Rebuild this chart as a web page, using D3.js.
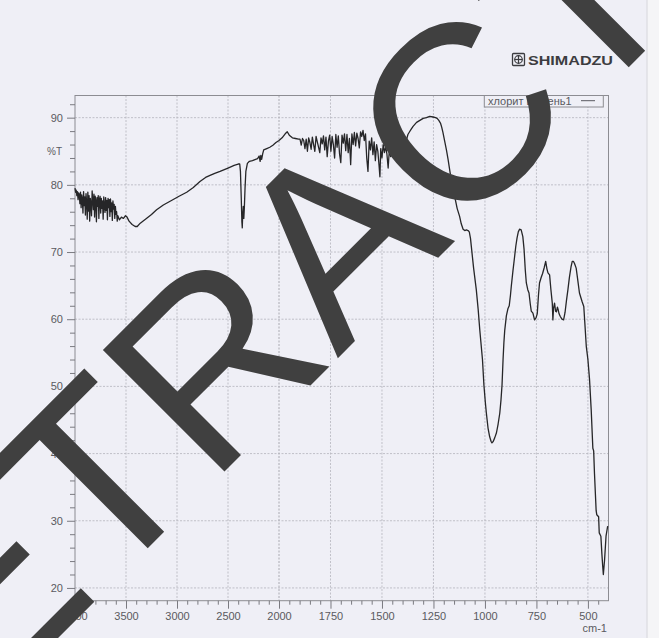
<!DOCTYPE html>
<html>
<head>
<meta charset="utf-8">
<script src="https://cdn.jsdelivr.net/npm/d3@7"></script>
<style>
  html, body { margin: 0; padding: 0; background: #efeff6; }
  svg { display: block; }
</style>
</head>
<body>
<svg id="chart" width="659" height="638"></svg>
<script>
// IR transmittance spectrum, %T versus wavenumber (cm-1)
const wavenumbers = [
  4000,3994,3988,3982,3976,3970,3964,3958,3952,3946,3940,3934,3928,3922,3916,3910,3904,3898,3892,3886,
  3880,3874,3868,3862,3856,3850,3844,3838,3832,3826,3820,3814,3808,3802,3796,3790,3784,3778,3772,3766,
  3760,3754,3748,3742,3736,3730,3724,3718,3712,3706,3700,3694,3688,3682,3676,3670,3664,3658,3652,3646,
  3640,3634,3628,3622,3616,3610,3604,3598,3592,3586,3580,
  3565,3545,3525,3505,3490,3470,3440,3410,3390,3360,3300,3250,3200,3134,3050,2980,2905,2840,2775,2720,
  2676,2630,2578,2500,2440,2400,2385,2378,2370,2364,2360,2356,2350,2345,2340,2333,2325,2310,2290,2260,
  2230,2210,2195,2185,2178,2170,2160,2150,2120,2090,2060,2030,2000,1985,1970,1960,1950,1935,1920,1905,
  1898,1892,1886,1880,1874,1868,1862,1856,1850,1844,1838,1832,1826,1820,1814,1808,1802,1796,1790,1784,
  1778,1772,1766,1760,1754,1748,1742,1736,1730,1724,1718,1712,1706,1700,1694,1688,1682,1676,1670,1664,
  1658,1652,1646,1640,1634,1628,1622,1616,1610,1604,1598,1592,1586,1580,1574,1568,1562,1556,1550,1544,
  1538,1532,1526,1520,1514,1510,1506,1500,1494,1488,1482,1476,1470,1464,1458,1452,1446,1440,1434,1428,
  1422,1416,1410,1404,1398,1392,1386,1380,1374,1366,1358,1349,1332,1316,1300,1284,1268,1252,1240,1232,
  1224,1216,1210,1204,1196,1187,1179,1171,1160,1147,1135,1123,1115,1106,1098,1090,1082,1076,1070,1066,
  1055,1042,1033,1025,1012,1005,998,993,985,977,970,966,960,953,944,936,928,922,917,912,
  908,904,896,888,882,876,872,864,856,850,844,838,832,824,816,810,804,799,792,786,
  780,775,767,759,752,746,740,735,727,720,712,705,699,694,686,680,673,670,667,662,
  657,653,648,645,640,634,626,618,611,604,597,590,582,576,570,565,557,550,541,534,
  528,520,514,508,500,492,484,476,472,468,460,457,448,445,437,432,428,425,419,412,
  404
];
const transmittance = [
  79.5,78.9,79.2,78.4,79.0,77.8,78.8,78.6,77.2,78.9,76.6,78.5,77.9,75.8,79.0,76.9,78.2,75.5,78.7,77.4,
  74.9,78.9,76.1,78.4,74.6,78.0,77.2,75.4,79.1,77.8,76.3,78.6,75.2,78.3,77.6,74.5,78.1,76.8,78.4,75.0,
  77.9,78.3,75.8,78.0,76.5,77.6,74.9,78.2,77.0,75.9,78.1,76.2,77.7,74.8,78.0,76.6,77.8,75.3,77.9,76.0,
  77.3,74.7,77.6,76.4,77.1,75.0,76.8,75.6,76.0,74.6,75.4,
  74.8,75.2,75.0,75.4,75.2,74.6,74.1,73.8,73.8,74.3,75.0,75.6,76.3,77.0,77.7,78.3,78.9,79.6,80.5,81.1,
  81.4,81.7,82.0,82.5,82.9,83.1,83.1,82.0,78.0,74.5,73.6,75.5,76.8,75.0,76.5,79.5,82.0,83.2,83.5,83.6,
  83.8,83.9,84.3,83.5,84.4,83.8,84.6,85.2,85.4,85.6,85.9,86.3,86.6,87.0,87.6,87.9,87.4,87.0,86.9,86.8,
  86.8,85.9,86.9,86.6,85.4,86.8,85.0,87.0,86.3,85.3,87.1,86.0,85.0,87.2,86.4,85.6,84.8,87.0,86.1,87.3,
  85.2,87.1,84.2,86.5,87.4,85.0,87.2,86.0,84.0,87.5,85.6,87.3,84.6,83.3,87.4,86.2,87.6,85.1,87.5,84.8,
  86.9,83.0,87.6,86.0,87.8,85.8,87.7,86.9,85.5,87.9,87.2,88.1,86.6,87.6,84.0,82.0,86.5,85.2,87.0,84.5,
  86.4,83.6,86.0,85.0,82.8,81.2,85.4,84.0,86.0,84.8,85.7,84.6,82.5,85.3,84.2,85.5,84.6,85.2,84.0,85.4,
  84.8,85.6,85.0,85.8,85.4,86.2,86.0,86.8,87.5,87.9,88.3,88.7,89.3,89.6,89.9,90.0,90.2,90.1,90.0,89.9,
  89.6,89.2,88.6,87.8,86.6,85.2,83.8,82.2,80.0,78.3,76.5,75.3,74.2,73.4,73.2,73.3,73.2,73.0,72.0,70.8,
  67.6,64.4,61.5,58.4,54.0,50.2,47.6,46.0,43.8,42.5,41.8,41.6,41.8,42.3,43.1,44.4,46.0,48.0,50.2,54.0,
  56.5,58.3,60.5,61.6,62.0,63.6,64.9,67.2,69.3,70.9,72.1,73.0,73.4,73.3,72.3,70.4,67.3,65.4,64.4,63.9,
  62.3,61.2,60.9,59.9,60.2,60.8,63.6,65.4,66.2,66.8,67.7,68.6,67.5,66.9,66.6,64.5,62.4,59.9,61.6,62.4,
  61.2,61.1,61.8,61.5,60.8,60.4,60.0,59.9,61.0,62.8,64.4,66.2,67.8,68.6,68.6,68.3,67.6,66.0,63.9,63.2,
  62.6,61.9,59.0,56.0,54.0,51.0,46.5,40.8,40.4,37.0,31.5,30.9,30.6,28.2,27.7,25.0,23.2,22.0,24.2,27.7,
  29.2
];

// Axis ticks and labels
const xMajorTicks = [4000,3500,3000,2500,2000,1750,1500,1250,1000,750,500];
const xMinorTicks = [3900,3800,3700,3600,3400,3300,3200,3100,2900,2800,2700,2600,2400,2300,2200,2100,
  1950,1900,1850,1800,1700,1650,1600,1550,1450,1400,1350,1300,1200,1150,1100,1050,
  950,900,850,800,700,650,600,550,450];
const yMajorTicks = [20,30,40,50,60,70,80,90];
const yMinorTicks = [22,24,26,28,32,34,36,38,42,44,46,48,52,54,56,58,62,64,66,68,72,74,76,78,82,84,86,88,92];
const seriesName = "хлорит щебень1";
const brandName = "SHIMADZU";
const watermarkText = "ETRACT";

const svg = d3.select("#chart");
const W = 659, H = 638;
const plot = { left: 75, right: 608.5, top: 95.5, bottom: 600.7 };

// paper background with the lighter sheet edge on the right
svg.append("rect").attr("width", W).attr("height", H).attr("fill", "#efeff6");
svg.append("rect").attr("x", 647).attr("width", W - 647).attr("height", H).attr("fill", "#f5f5f7");
svg.append("line").attr("x1", 647).attr("x2", 647).attr("y1", 0).attr("y2", H)
  .attr("stroke", "#d6d6dc").attr("stroke-width", 1);

// wavenumber axis: compressed above 2000 cm-1, doubled below
const x = d3.scaleLinear().domain([4000, 2000, 400]).range([plot.left, 279, plot.right]);
const y = d3.scaleLinear().domain([18.1, 93.3]).range([plot.bottom, plot.top]);

const grid = svg.append("g").attr("stroke", "#b4b4bc").attr("stroke-width", 0.8)
  .attr("stroke-dasharray", "2,1.5");
grid.selectAll(".gx").data(xMajorTicks.filter(d => d < 4000)).join("line")
  .attr("x1", d => x(d)).attr("x2", d => x(d)).attr("y1", plot.top).attr("y2", plot.bottom)
  .attr("stroke", d => d === 2000 ? "#9a9aa2" : null);
grid.selectAll(".gy").data(yMajorTicks).join("line")
  .attr("x1", plot.left).attr("x2", plot.right).attr("y1", d => y(d)).attr("y2", d => y(d));

// frame
svg.append("rect").attr("x", plot.left).attr("y", plot.top)
  .attr("width", plot.right - plot.left).attr("height", plot.bottom - plot.top)
  .attr("fill", "none").attr("stroke", "#8c8c92").attr("stroke-width", 1);

const labelFont = "'Liberation Sans', Arial, sans-serif";

function styleAxis(g) {
  g.select(".domain").remove();
  g.selectAll("line").attr("stroke", "#7a7a80");
  g.selectAll("text").attr("fill", "#5a5a60").attr("font-family", labelFont).attr("font-size", 11);
}

svg.append("g").attr("transform", `translate(0,${plot.bottom})`)
  .call(d3.axisBottom(x).tickValues(xMinorTicks).tickSize(4).tickFormat(""))
  .call(styleAxis);
svg.append("g").attr("transform", `translate(0,${plot.bottom})`)
  .call(d3.axisBottom(x).tickValues(xMajorTicks).tickSize(8).tickPadding(3.5).tickFormat(d3.format("d")))
  .call(styleAxis);

svg.append("g").attr("transform", `translate(${plot.left},0)`)
  .call(d3.axisLeft(y).tickValues(yMinorTicks).tickSize(5).tickFormat(""))
  .call(styleAxis);
svg.append("g").attr("transform", `translate(${plot.left},0)`)
  .call(d3.axisLeft(y).tickValues(yMajorTicks).tickSize(8).tickPadding(4).tickFormat(d3.format("d")))
  .call(styleAxis);

svg.append("text").attr("x", 62).attr("y", y(85)).attr("dy", "0.35em")
  .attr("text-anchor", "end").attr("font-family", labelFont).attr("font-size", 10)
  .attr("fill", "#5a5a60").text("%T");
svg.append("text").attr("x", 607).attr("y", 632)
  .attr("text-anchor", "end").attr("font-family", labelFont).attr("font-size", 11)
  .attr("fill", "#5a5a60").text("cm-1");

// spectrum trace
const pts = wavenumbers.map((w, i) => [w, transmittance[i]]);
svg.append("path").datum(pts)
  .attr("fill", "none").attr("stroke", "#262628").attr("stroke-width", 1.3)
  .attr("stroke-linejoin", "round")
  .attr("d", d3.line().x(d => x(d[0])).y(d => y(d[1])));

// legend
const lg = svg.append("g");
lg.append("rect").attr("x", 484.3).attr("y", plot.top).attr("width", 119).attr("height", 11.5)
  .attr("fill", "#efeff6").attr("stroke", "#8c8c92").attr("stroke-width", 1);
lg.append("text").attr("x", 488).attr("y", 104.5).attr("font-family", labelFont)
  .attr("font-size", 11).attr("fill", "#5a5a60").text(seriesName);
lg.append("line").attr("x1", 581).attr("x2", 595).attr("y1", 100.7).attr("y2", 100.7)
  .attr("stroke", "#5a5a60").attr("stroke-width", 1);

// brand mark
const brand = svg.append("g").attr("fill", "none").attr("stroke", "#3c3c40");
brand.append("rect").attr("x", 512.5).attr("y", 53.5).attr("width", 12).attr("height", 12)
  .attr("rx", 1).attr("stroke-width", 1.3);
brand.append("circle").attr("cx", 518.5).attr("cy", 59.5).attr("r", 3.8).attr("stroke-width", 1.2);
brand.append("line").attr("x1", 518.5).attr("x2", 518.5).attr("y1", 55.7).attr("y2", 63.3).attr("stroke-width", 1.2);
brand.append("line").attr("x1", 514.7).attr("x2", 522.3).attr("y1", 59.5).attr("y2", 59.5).attr("stroke-width", 1.2);
svg.append("text").attr("x", 528).attr("y", 64.8).attr("font-family", labelFont)
  .attr("font-weight", "bold").attr("font-size", 13).attr("fill", "#3c3c40")
  .attr("textLength", 85).attr("lengthAdjust", "spacingAndGlyphs").text(brandName);

// diagonal overprint
svg.append("text").attr("transform", "translate(-16,712) rotate(-45)")
  .attr("font-family", labelFont).attr("font-size", 250).attr("fill", "#404040")
  .text(watermarkText);
</script>
</body>
</html>
